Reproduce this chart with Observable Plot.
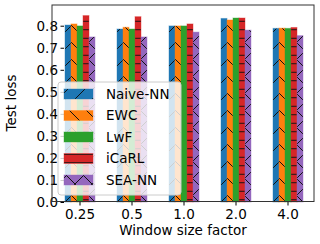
<!DOCTYPE html>
<html><head><meta charset="utf-8">
<script src="https://cdn.jsdelivr.net/npm/d3@7"></script>
<script src="https://cdn.jsdelivr.net/npm/@observablehq/plot@0.6"></script>
<style>
html,body{margin:0;padding:0;background:#fff;}
#chart svg{font-family:"DejaVu Sans",sans-serif;display:block;}
</style></head><body><div id="chart"></div>
<script>
const factors = ["0.25", "0.5", "1.0", "2.0", "4.0"];
const methods = ["Naive-NN", "EWC", "LwF", "iCaRL", "SEA-NN"];
const naiveNN = [0.803, 0.785, 0.799, 0.833, 0.788];
const ewc     = [0.808, 0.793, 0.799, 0.826, 0.789];
const lwf     = [0.799, 0.785, 0.799, 0.835, 0.788];
const icarl   = [0.846, 0.841, 0.808, 0.835, 0.792];
const seaNN   = [0.749, 0.749, 0.771, 0.780, 0.755];
const yTicks  = [0.0, 0.1, 0.2, 0.3, 0.4, 0.5, 0.6, 0.7, 0.8];
const colors  = ["#1f77b4", "#ff7f0e", "#2ca02c", "#d62728", "#9467bd"];
const hatches = ["/", "\\", "", "-", "x"];
const yTitle = "Test loss";
const xTitle = "Window size factor";

const seriesValues = [naiveNN, ewc, lwf, icarl, seaNN];
const rows = [];
factors.forEach((f, i) => methods.forEach((m, j) => rows.push({factor: f, method: m, value: seriesValues[j][i]})));

const fills = methods.map((m, j) => hatches[j] ? `url(#hatch-${j})` : colors[j]);

const barMarks = methods.map((m, j) => Plot.barY(rows.filter(r => r.method === m), {
  fx: "factor", x: "method", y: "value",
  fill: fills[j], stroke: colors[j], strokeOpacity: 0.4, strokeWidth: 1
}));

const chart = Plot.plot({
  width: 320, height: 244,
  marginLeft: 52, marginRight: 6, marginTop: 5, marginBottom: 42,
  style: {fontFamily: "DejaVu Sans", fontSize: "13.5px", color: "#000", background: "#fff", overflow: "visible"},
  fx: {domain: factors, paddingInner: 0.41, paddingOuter: 0.2145},
  x: {domain: methods, padding: 0, axis: null},
  y: {domain: [0, 0.894]},
  marks: [
    ...barMarks,
    Plot.axisY({ticks: yTicks, tickFormat: d3.format(".1f"), tickSize: 3.5, tickPadding: 3, label: null}),
    Plot.axisFx({anchor: "bottom", tickSize: 3.5, tickPadding: 3, label: null})
  ]
});

const svg = d3.select(chart);
// hatch patterns
const defs = svg.insert("defs", ":first-child");
function addPattern(j) {
  const h = hatches[j];
  if (!h) return;
  const P = h === "-" ? 8.5 : 17;
  const p = defs.append("pattern").attr("id", `hatch-${j}`)
    .attr("patternUnits", "userSpaceOnUse").attr("width", P).attr("height", P);
  p.append("rect").attr("width", P).attr("height", P).attr("fill", colors[j]);
  let d = "";
  if (h === "/") d = `M0,${P}L${P},0M-4,4L4,-4M${P-4},${P+4}L${P+4},${P-4}`;
  if (h === "\\") d = `M0,0L${P},${P}M-4,${P-4}L4,${P+4}M${P-4},-4L${P+4},4`;
  if (h === "x") d = `M0,${P}L${P},0M-4,4L4,-4M${P-4},${P+4}L${P+4},${P-4}M0,0L${P},${P}M-4,${P-4}L4,${P+4}M${P-4},-4L${P+4},4`;
  if (h === "-") d = `M0,${P/2}H${P}`;
  p.append("path").attr("d", d).attr("stroke", "#111").attr("stroke-width", 1).attr("fill", "none");
}
methods.forEach((m, j) => addPattern(j));

// frame
svg.append("rect").attr("x", 52).attr("y", 5).attr("width", 262).attr("height", 196.5)
  .attr("fill", "none").attr("stroke", "#333").attr("stroke-width", 1);

// axis titles
svg.append("text").attr("transform", "translate(11,103) rotate(-90)").attr("text-anchor", "middle")
  .attr("dy", "0.35em").attr("font-size", "13.5px").attr("fill", "#000").text(yTitle);
svg.append("text").attr("x", 183).attr("y", 230).attr("text-anchor", "middle")
  .attr("dy", "0.35em").attr("font-size", "13.5px").attr("fill", "#000").text(xTitle);

// legend
const lg = svg.append("g").attr("transform", "translate(58,82)");
lg.append("rect").attr("width", 123).attr("height", 113).attr("rx", 3)
  .attr("fill", "#fff").attr("fill-opacity", 0.8).attr("stroke", "#ccc").attr("stroke-width", 1);
methods.forEach((m, j) => {
  const cy = 12 + j * 21.5;
  lg.append("rect").attr("x", 6).attr("y", cy - 5).attr("width", 29).attr("height", 10)
    .attr("fill", fills[j]).attr("stroke", colors[j]).attr("stroke-opacity", 0.4);
  lg.append("text").attr("x", 48).attr("y", cy).attr("dy", "0.36em").attr("text-anchor", "start")
    .attr("font-size", "13.5px").attr("fill", "#000").text(m);
});

document.getElementById("chart").appendChild(chart);
</script></body></html>
